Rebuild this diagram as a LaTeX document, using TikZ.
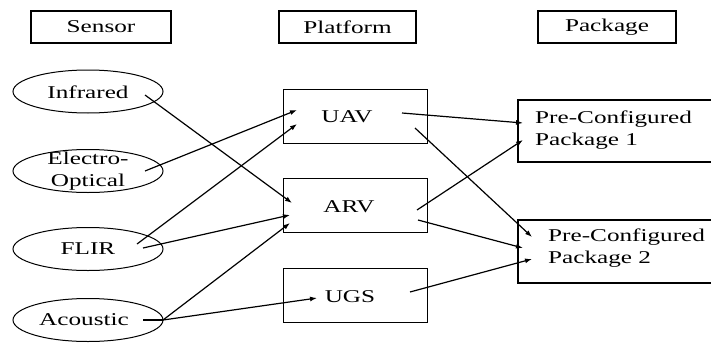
\documentclass[tikz,border=0pt]{standalone}
\usepackage{fontspec}
\usepackage{graphicx}
\setmainfont{Liberation Serif}
\usetikzlibrary{arrows.meta,shapes.geometric}
\newcommand\hsx[1]{\scalebox{1.4}[1]{#1}}
\begin{document}
\begin{tikzpicture}[x=1pt,y=-1pt,
  every node/.style={font=\fontsize{18}{22}\selectfont},
  header/.style={draw, line width=1.8pt, minimum width=#1, minimum height=32pt, inner sep=0pt},
  header/.default=138pt,
  sensorshape/.style={draw, line width=1pt, ellipse, minimum width=150pt, minimum height=43pt, inner sep=0pt},
  platbox/.style={draw, line width=1pt, minimum width=144pt, minimum height=54pt, inner sep=0pt},
  label/.style={inner sep=0pt},
  conn/.style={line width=1.2pt, -{Latex[length=7pt,width=5pt]}}]
\clip (0,0) rectangle (711,345);
\useasboundingbox (0,0) rectangle (711,345);
% headers
\node[header=140pt] (hsen) at (101,27) {\hsx{Sensor}};
\node[header=137pt] (hplat) at (347.5,27) {\hsx{Platform}};
\node[header=138pt] (hpack) at (607,27) {\hsx{Package}};
% sensors
\node[sensorshape] (infra) at (88,91.5) {};
\node[label] (infrat) at (88,92) {\hsx{Infrared}};
\node[sensorshape] (eo) at (88,171) {};
\node[label, align=center] (eot) at (88,171) {\hsx{Electro-}\\\hsx{Optical}};
\node[sensorshape] (flir) at (88,249) {};
\node[label] (flirt) at (88,249) {\hsx{FLIR}};
\node[sensorshape] (acou) at (88,320) {};
\node[label] (acout) at (84,320) {\hsx{Acoustic}};
% platforms
\node[platbox] (uav) at (355,116) {};
\node[label] (uavt) at (347,117) {\hsx{UAV}};
\node[platbox] (arv) at (355,205.5) {};
\node[label] (arvt) at (349,207) {\hsx{ARV}};
\node[platbox] (ugs) at (355,295) {};
\node[label] (ugst) at (350,297) {\hsx{UGS}};
% packages
\draw[line width=1.3pt] (716,100) -- (518,100) -- (518,162) -- (716,162);
\coordinate (pk1) at (614,131);
\draw[line width=1.3pt] (716,220) -- (518,220) -- (518,283) -- (716,283);
\coordinate (pk2) at (614,251.5);
\node[label, anchor=west, align=left] (pk1t) at (535,130) {\hsx{Pre-Configured}\\\hsx{Package 1}};
\node[label, anchor=west, align=left] (pk2t) at (548,248) {\hsx{Pre-Configured}\\\hsx{Package 2}};
% connector ends
\coordinate (infraout) at (145,95);
\coordinate (eoout) at (145,171);
\coordinate (flirout1) at (137,244);
\coordinate (flirout2) at (143,248);
\coordinate (acoustart) at (143,320);
\coordinate (acouout) at (163,320);
\coordinate (uavin1) at (297,110);
\coordinate (uavin2) at (297,124);
\coordinate (arvin1) at (292,203);
\coordinate (arvin2) at (290,215);
\coordinate (arvin3) at (290,223);
\coordinate (ugsin) at (317,298);
\coordinate (uavout1) at (402,113);
\coordinate (uavout2) at (415,128);
\coordinate (arvout1) at (417,210);
\coordinate (arvout2) at (418,220);
\coordinate (ugsout) at (410,292);
\coordinate (pk1in1) at (523,123);
\coordinate (pk1in2) at (523,140);
\coordinate (pk2in1) at (532,237);
\coordinate (pk2in2) at (523,248);
\coordinate (pk2in3) at (532,259);
% connectors
\draw[conn] (infraout) -- (arvin1);
\draw[conn] (eoout) -- (uavin1);
\draw[conn] (flirout1) -- (uavin2);
\draw[conn] (flirout2) -- (arvin2);
\draw[line width=1.2pt] (acoustart) -- (acouout);
\draw[conn] (acouout) -- (arvin3);
\draw[conn] (acouout) -- (ugsin);
\draw[conn] (uavout1) -- (pk1in1);
\draw[conn] (uavout2) -- (pk2in1);
\draw[conn] (arvout1) -- (pk1in2);
\draw[conn] (arvout2) -- (pk2in2);
\draw[conn] (ugsout) -- (pk2in3);
\end{tikzpicture}
\end{document}
